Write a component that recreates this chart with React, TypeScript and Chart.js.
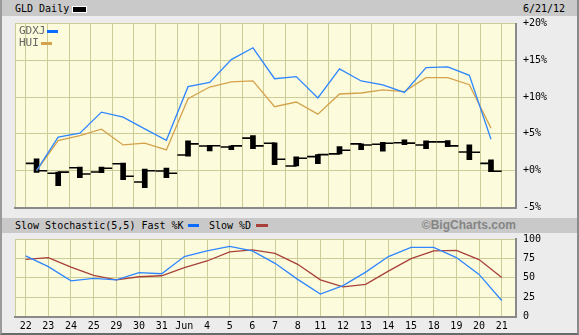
import React, { useEffect, useRef } from "react";
import { Chart, registerables } from "chart.js";

Chart.register(...registerables);

const dates = ["22", "23", "24", "25", "29", "30", "31", "Jun", "4", "5", "6", "7", "8", "11", "12", "13", "14", "15", "18", "19", "20", "21"];

const gldOpen = [1.0, -0.35, 0.4, -0.18, 0.95, -1.54, -0.04, 2.14, 3.35, 3.23, 4.42, 3.73, 0.64, 1.91, 2.28, 3.64, 3.6, 3.8, 3.5, 3.91, 2.55, 1.0];
const gldHigh = [1.6, -0.18, 0.5, 0.5, 1.05, 0.23, 0.37, 4.05, 3.45, 3.37, 4.77, 3.78, 1.87, 2.18, 3.27, 3.64, 3.87, 4.19, 4.05, 4.1, 3.5, 1.46];
const gldLow = [-0.22, -2.05, -0.95, -0.27, -1.23, -2.3, -0.95, 1.96, 2.7, 2.86, 3.0, 0.82, 0.64, 0.95, 2.28, 2.86, 2.64, 3.55, 3.0, 3.27, 1.5, -0.14];
const gldClose = [0.0, -0.2, -0.45, 0.33, -0.76, 0.0, -0.35, 3.64, 3.4, 3.37, 3.37, 1.55, 1.69, 2.18, 2.78, 3.5, 3.73, 3.75, 3.91, 3.37, 2.5, -0.08];

const gdxj = [0, 4.55, 5.1, 7.96, 7.28, 5.69, 4.14, 11.42, 12.0, 15.1, 16.7, 12.5, 12.78, 9.88, 13.83, 12.19, 11.65, 10.64, 14.0, 14.1, 12.96, 4.28];
const hui = [0, 4.1, 4.77, 5.64, 3.5, 3.74, 2.82, 9.78, 11.37, 12.06, 12.2, 8.69, 9.33, 7.69, 10.42, 10.56, 10.97, 10.74, 12.64, 12.64, 11.69, 5.78];

const fastK = [78.2, 64.4, 46.2, 49.2, 47.5, 56.6, 55.3, 77.4, 84.7, 90.5, 84.7, 68.7, 48, 29.2, 40.0, 57.4, 77.4, 89.2, 89.2, 76.1, 54.4, 20.9];
const slowD = [73.9, 76.1, 63.9, 53.1, 47.5, 51.4, 52.7, 63.1, 71.7, 83.4, 86.1, 81.4, 67.4, 47.4, 38.3, 41.7, 58.7, 74.8, 84.7, 85.3, 73.5, 50.5];

const pctTicks = [-5, 0, 5, 10, 15, 20];
const stochTicks = [0, 25, 50, 75, 100];

const MONO = "'DejaVu Sans Mono', monospace";
const GRID = "#cccc99";
const PLOT_BG = "#fcfcdc";
const SHADOW = "#8a8a8a";
const BLUE = "#2f86ff";
const GOLD = "#d4a24c";
const RED = "#a8403a";
const TICK_OFF = 0.24;

const plotBg = {
  id: "plotBg",
  beforeDraw(chart: any) {
    const { ctx, chartArea: a } = chart;
    ctx.save();
    ctx.fillStyle = PLOT_BG;
    ctx.fillRect(a.left, a.top, a.right - a.left, a.bottom - a.top);
    ctx.strokeStyle = GRID;
    ctx.lineWidth = 1;
    ctx.beginPath();
    ctx.moveTo(a.left + 0.5, a.top);
    ctx.lineTo(a.left + 0.5, a.bottom);
    ctx.stroke();
    ctx.restore();
  },
};

const xTicks = (s: any) => {
  s.ticks = dates.map((_, i) => ({ value: i }));
};

const fitX = (h: number) => (s: any) => {
  s.height = h;
  s.paddingLeft = 0;
  s.paddingRight = 0;
  s.paddingTop = 0;
  s.paddingBottom = 0;
};
const fitY = (s: any) => {
  s.width = 61;
  s.paddingTop = 0;
  s.paddingBottom = 0;
  s.paddingLeft = 0;
  s.paddingRight = 0;
};

export default function App() {
  const topRef = useRef<HTMLCanvasElement>(null);
  const botRef = useRef<HTMLCanvasElement>(null);

  useEffect(() => {
    const top = new Chart(topRef.current!, {
      type: "line",
      data: {
        datasets: [
          {
            type: "line",
            label: "GDXJ",
            data: gdxj.map((v, i) => ({ x: i, y: v })),
            borderColor: BLUE,
            borderWidth: 1.3,
            pointRadius: 0,
            tension: 0,
            order: 0,
          },
          {
            type: "line",
            label: "HUI",
            data: hui.map((v, i) => ({ x: i, y: v })),
            borderColor: GOLD,
            borderWidth: 1.3,
            pointRadius: 0,
            tension: 0,
            order: 1,
          },
          {
            type: "bar",
            label: "GLD range",
            data: gldHigh.map((h, i) => ({ x: i, y: [gldLow[i], h] })) as any,
            backgroundColor: "#000",
            borderWidth: 0,
            barThickness: 5,
            order: 3,
          },
          {
            type: "scatter",
            label: "GLD open",
            data: gldOpen.map((v, i) => ({ x: i - TICK_OFF, y: v })),
            pointStyle: "line",
            pointRadius: 5.5,
            pointBorderWidth: 1.6,
            borderColor: "#000",
            backgroundColor: "#000",
            showLine: false,
            order: 2,
          },
          {
            type: "scatter",
            label: "GLD close",
            data: gldClose.map((v, i) => ({ x: i + TICK_OFF, y: v })),
            pointStyle: "line",
            pointRadius: 5.5,
            pointBorderWidth: 1.6,
            borderColor: "#000",
            backgroundColor: "#000",
            showLine: false,
            order: 2,
          },
        ],
      },
      options: {
        responsive: false,
        animation: false,
        events: [],
        layout: { padding: { left: 15, top: 7.5, right: 0, bottom: 10.5 } },
        plugins: { legend: { display: false }, tooltip: { enabled: false } },
        scales: {
          x: {
            type: "linear",
            min: -0.47,
            max: 21.63,
            afterBuildTicks: xTicks,
            ticks: { display: false },
            grid: { color: GRID, drawTicks: false },
            border: { display: true, color: SHADOW, width: 2 },
            afterFit: fitX(0),
          },
          y: {
            position: "right",
            min: -5,
            max: 20,
            afterBuildTicks: (s: any) => {
              s.ticks = pctTicks.map((v) => ({ value: v }));
            },
            ticks: {
              callback: (v: any) => (v >= 0 ? "+" : "") + v + "%",
              font: { family: MONO, size: 10 },
              color: "#000",
              padding: 7,
            },
            grid: { color: GRID, drawTicks: false },
            border: { display: true, color: SHADOW, width: 2 },
            afterFit: fitY,
          },
        },
      },
      plugins: [plotBg],
    });

    const bot = new Chart(botRef.current!, {
      type: "line",
      data: {
        datasets: [
          {
            label: "Fast %K",
            data: fastK.map((v, i) => ({ x: i, y: v })),
            borderColor: BLUE,
            borderWidth: 1.3,
            pointRadius: 0,
            tension: 0,
            order: 0,
          },
          {
            label: "Slow %D",
            data: slowD.map((v, i) => ({ x: i, y: v })),
            borderColor: RED,
            borderWidth: 1.3,
            pointRadius: 0,
            tension: 0,
            order: 1,
          },
        ],
      },
      options: {
        responsive: false,
        animation: false,
        events: [],
        layout: { padding: { left: 15, top: 6, right: 0, bottom: 0 } },
        plugins: { legend: { display: false }, tooltip: { enabled: false } },
        scales: {
          x: {
            type: "linear",
            min: -0.47,
            max: 21.63,
            afterBuildTicks: xTicks,
            ticks: {
              autoSkip: false,
              maxRotation: 0,
              callback: (v: any) => dates[v],
              font: { family: MONO, size: 10 },
              color: "#000",
              padding: 4,
            },
            grid: { color: GRID, drawTicks: false },
            border: { display: true, color: SHADOW, width: 2 },
            afterFit: fitX(16.3),
          },
          y: {
            position: "right",
            min: 0,
            max: 100,
            afterBuildTicks: (s: any) => {
              s.ticks = stochTicks.map((v) => ({ value: v }));
            },
            ticks: {
              font: { family: MONO, size: 10 },
              color: "#000",
              padding: 7,
            },
            grid: { color: GRID, drawTicks: false },
            border: { display: true, color: SHADOW, width: 2 },
            afterFit: fitY,
          },
        },
      },
      plugins: [plotBg],
    });

    return () => {
      top.destroy();
      bot.destroy();
    };
  }, []);

  const txt: React.CSSProperties = {
    position: "absolute",
    fontFamily: MONO,
    fontSize: 10,
    lineHeight: "12px",
    whiteSpace: "nowrap",
  };
  const sw = (left: number, top: number, w: number, h: number, c: string): React.CSSProperties => ({
    position: "absolute",
    left,
    top,
    width: w,
    height: h,
    background: c,
  });

  return (
    <div
      style={{
        position: "absolute",
        left: 0,
        top: 0,
        width: 579,
        height: 335,
        boxSizing: "border-box",
        background: "#ececec",
        borderLeft: "2px solid #9a9a9a",
        borderRight: "2px solid #8a8a8a",
        borderBottom: "2px solid #6a6a6a",
        overflow: "hidden",
      }}
    >
      <div style={{ position: "absolute", left: -2, top: 0, width: 579, height: 16, background: "#c9c9c9" }} />
      <div style={{ ...txt, left: 13, top: 3, color: "#000" }}>GLD Daily</div>
      <div style={{ ...sw(71, 7, 13, 5, "#000"), outline: "1px solid #fff" }} />
      <div style={{ ...txt, left: 521, top: 3, color: "#000" }}>6/21/12</div>

      <canvas ref={topRef} width={577} height={202} style={{ position: "absolute", left: -2, top: 16 }} />

      <div style={{ ...txt, left: 17, top: 25, color: "#666", fontSize: 11 }}>GDXJ</div>
      <div style={sw(45, 30, 11, 3, "#0a6cff")} />
      <div style={{ ...txt, left: 17, top: 37, color: "#666", fontSize: 11 }}>HUI</div>
      <div style={sw(39, 42, 11, 3, GOLD)} />

      <div style={{ position: "absolute", left: -2, top: 218, width: 579, height: 15, background: "#c9c9c9" }} />
      <div style={{ ...txt, left: 13, top: 220, color: "#000" }}>Slow Stochastic(5,5) Fast %K</div>
      <div style={sw(186, 224, 11, 3, "#0a6cff")} />
      <div style={{ ...txt, left: 207, top: 220, color: "#000" }}>Slow %D</div>
      <div style={sw(254, 224, 12, 3, RED)} />
      <div
        style={{
          position: "absolute",
          right: 61,
          top: 218,
          height: 15,
          lineHeight: "15px",
          fontFamily: "'Liberation Sans', Arial, sans-serif",
          fontWeight: "bold",
          fontSize: 12,
          color: "#858585",
          whiteSpace: "nowrap",
        }}
      >
        ©BigCharts.com
      </div>

      <canvas ref={botRef} width={577} height={100} style={{ position: "absolute", left: -2, top: 233 }} />
    </div>
  );
}
